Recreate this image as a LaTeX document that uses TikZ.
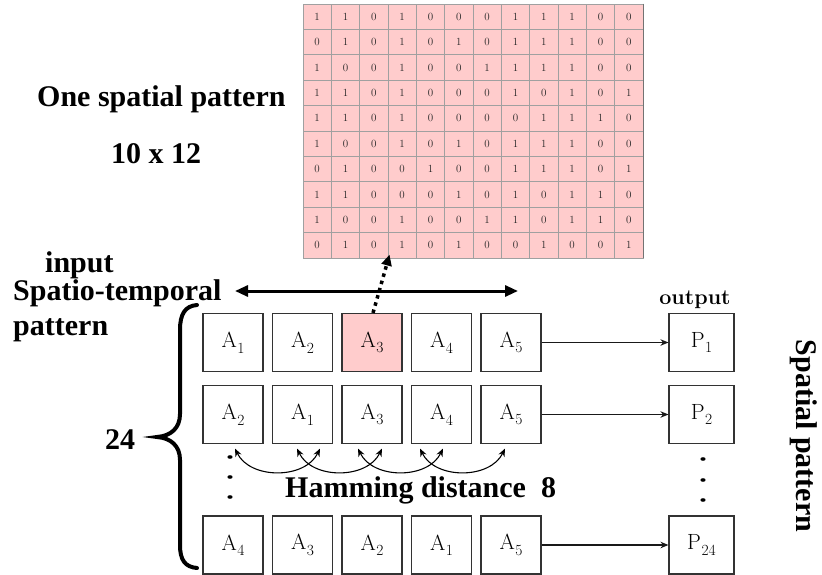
\documentclass[tikz,border=0pt]{standalone}
\usepackage{fontspec}
\newfontfamily\tms{Liberation Serif}
\usetikzlibrary{arrows.meta}
\definecolor{cellpink}{HTML}{FFCCCC}
\definecolor{cellline}{HTML}{A0A0A0}
\newcommand\lsub[2]{#1\kern0.5pt\raisebox{-0.25em}{\fontsize{15.5}{16}\selectfont #2}}
\begin{document}
\begin{tikzpicture}[x=1pt,y=-1pt,
  cell/.style={draw=cellline, fill=cellpink, line width=0.9pt, minimum width=28.33pt, minimum height=25.4pt, inner sep=0pt, font=\fontsize{11}{13}\selectfont, text=black!85},
  abox/.style={draw=black!80, line width=1.1pt, fill=white, minimum width=60pt, minimum height=58pt, inner sep=0pt, font=\fontsize{22}{26}\selectfont},
  pbox/.style={abox, minimum width=65pt},
  big/.style={font=\tms\bfseries\fontsize{30}{36}\selectfont, inner sep=0pt},
  thinarrow/.style={-{Stealth[length=8pt,width=6.5pt]}, line width=1.2pt, black!90},
  curvarrow/.style={{Stealth[length=8pt,width=6.5pt]}-{Stealth[length=8pt,width=6.5pt]}, line width=1.1pt},
  dblarrow/.style={{Triangle[length=13pt,width=11pt]}-{Triangle[length=13pt,width=11pt]}, line width=3pt},
  dotarrow/.style={-{Triangle[length=11pt,width=10pt]}, line width=3.5pt, dash pattern=on 3.5pt off 4pt},
  bracestyle/.style={line width=4pt, line cap=round},
  vdot/.style={fill=black}
]
\useasboundingbox (0,0) rectangle (822,575);

% grid
\foreach \rowvals [count=\r] in {
 {1,1,0,1,0,0,0,1,1,1,0,0},
 {0,1,0,1,0,1,0,1,1,1,0,0},
 {1,0,0,1,0,0,1,1,1,1,0,0},
 {1,1,0,1,0,0,0,1,0,1,0,1},
 {1,1,0,1,0,0,0,0,1,1,1,0},
 {1,0,0,1,0,1,0,1,1,1,0,0},
 {0,1,0,0,1,0,0,1,1,1,0,1},
 {1,1,0,0,0,1,0,1,0,1,1,0},
 {1,0,0,1,0,0,1,1,0,1,1,0},
 {0,1,0,1,0,1,0,0,1,0,0,1}}{
  \foreach \v [count=\c] in \rowvals {
    \node[cell] (g-\r-\c) at ({303+28.333*(\c-0.5)},{4+25.4*(\r-0.5)}) {\v};
  }
}
\draw[black!55, line width=1.4pt] (g-1-12.north east) -- (g-10-12.south east);

% texts
\node[big, anchor=base west] (t1) at (37,107) {One spatial pattern};
\node[big, anchor=base west] (t2) at (111,164) {10 x 12};
\node[big, anchor=base west] (t3) at (45,272) {input};
\node[big, anchor=base west] (t4) at (13,300) {Spatio-temporal};
\node[big, anchor=base west] (t5) at (13,335) {pattern};
\node[big, anchor=base west] (t6) at (105,449) {24};
\node[big, anchor=base west] (t7) at (285,497) {Hamming distance~~8};
\node[font=\bfseries\fontsize{21.5}{24}\selectfont, anchor=base, inner sep=0pt] (t8) at (695,304) {output};
\node[big, rotate=-90] (t9) at (804,436) {Spatial pattern};

% boxes
\foreach \lab [count=\c] in {1,2,3,4,5}{
  \node[abox] (r1c\c) at ({233+69.5*(\c-1)},342.5) {\lsub{A}{\lab}};
}
\node[abox, fill=cellpink] at (r1c3) {\lsub{A}{3}};
\foreach \lab [count=\c] in {2,1,3,4,5}{
  \node[abox] (r2c\c) at ({233+69.5*(\c-1)},414.5) {\lsub{A}{\lab}};
}
\foreach \lab [count=\c] in {4,3,2,1,5}{
  \node[abox] (r3c\c) at ({233+69.5*(\c-1)},545) {\lsub{A}{\lab}};
}
\node[pbox] (p1) at (701.5,342.5) {\lsub{P}{1}};
\node[pbox] (p2) at (701.5,414.5) {\lsub{P}{2}};
\node[pbox] (p3) at (701.5,545) {\lsub{P}{24}};

\draw[thinarrow] (r1c5) -- (p1);
\draw[thinarrow] (r2c5) -- (p2);
\draw[thinarrow] (r3c5) -- (p3);

% hamming arcs
\draw[curvarrow] ([xshift=2pt,yshift=-4.5pt]r2c1.south) .. controls +(15,31) and +(-15,31) .. ([xshift=17.5pt,yshift=-4.5pt]r2c2.south);
\draw[curvarrow] ([xshift=-5.5pt,yshift=-4.5pt]r2c2.south) .. controls +(15,31) and +(-15,31) .. ([xshift=10pt,yshift=-4.5pt]r2c3.south);
\draw[curvarrow] ([xshift=-14pt,yshift=-4.5pt]r2c3.south) .. controls +(15,31) and +(-15,31) .. ([xshift=1.5pt,yshift=-4.5pt]r2c4.south);
\draw[curvarrow] ([xshift=-21.5pt,yshift=-4.5pt]r2c4.south) .. controls +(15,31) and +(-15,31) .. ([xshift=-6pt,yshift=-4.5pt]r2c5.south);

% double arrow
\coordinate (hl) at (235,291);
\coordinate (hr) at (518,291);
\draw[dblarrow] (hl) -- (hr);

% dotted arrow
\draw[dotarrow, shorten >=-4pt] ([xshift=1pt]r1c3.north) -- (g-10-3.south east);

% brace
\draw[bracestyle] (197,305) .. controls (185,306) and (180,314) .. (180,330) -- (180,414)
  .. controls (180,428) and (171,436) .. (157,437)
  .. controls (171,438) and (180,446) .. (180,460) -- (180,545)
  .. controls (180,560) and (185,567) .. (197,568);

% dots
\foreach \yy in {457,477,497}{ \fill[vdot] (230,\yy) ellipse [x radius=2.6pt, y radius=1.8pt]; }
\foreach \yy in {459,480,500}{ \fill[vdot] (703,\yy) ellipse [x radius=2.6pt, y radius=1.8pt]; }
\end{tikzpicture}
\end{document}
